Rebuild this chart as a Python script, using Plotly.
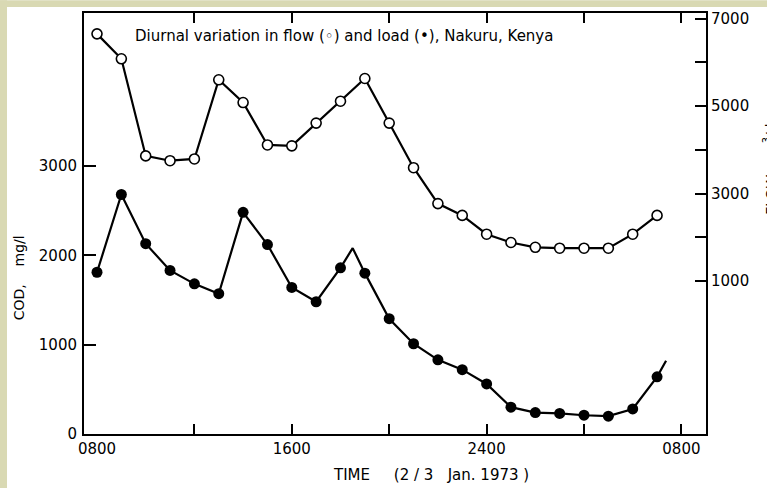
import plotly.graph_objects as go

# ---------------- data ----------------
hours = list(range(24))  # hours after 08:00
flow_values = [6650, 6080, 3860, 3750, 3790, 5600, 5080, 4110, 4090, 4610, 5110, 5630,
               4610, 3590, 2770, 2500, 2070, 1880, 1770, 1750, 1750, 1750, 2070, 2500]
cod_values = [1810, 2680, 2130, 1830, 1680, 1570, 2480, 2120, 1640, 1480, 1860, 1800,
              1290, 1010, 830, 720, 560, 300, 240, 230, 210, 200, 280, 640]
# vertices of the load line that carry no marker
cod_line_extra_hours = [10.5, 23.37]
cod_line_extra_values = [2080, 820]

x_label_hours = [0, 8, 16, 24]
x_label_text = ["0800", "1600", "2400", "0800"]
x_tick_hours = [4, 8, 12, 16, 20, 24]
cod_ticks = [0, 1000, 2000, 3000]
cod_tick_text = ["0", "1000", "2000", "3000"]
flow_major_ticks = [1000, 3000, 5000, 7000]
flow_tick_text = ["1000", "3000", "5000", "7000"]
flow_minor_ticks = [2000, 4000, 6000]

NB = "\u00a0"
title_text = "Diurnal variation in flow (\u25e6) and load (\u2022), Nakuru, Kenya"
x_title = "TIME" + NB * 5 + "(2" + NB + "/" + NB + "3" + NB * 3 + "Jan." + NB + "1973" + NB + ")"
y_title = "COD," + NB * 4 + "mg/l"
y2_title = "FLOW," + NB * 3 + "m<sup>3</sup>/d"

# build the load line with its unmarked vertices
line_pts = sorted(list(zip(hours, cod_values)) + list(zip(cod_line_extra_hours, cod_line_extra_values)))
cod_line_x = [p[0] for p in line_pts]
cod_line_y = [p[1] for p in line_pts]

FONT = "DejaVu Sans"
X_RANGE = [-0.534, 25.01]

fig = go.Figure()

# load (COD) line + filled markers
fig.add_trace(go.Scatter(x=cod_line_x, y=cod_line_y, mode="lines",
                         line=dict(color="black", width=2.2), xaxis="x", yaxis="y",
                         hoverinfo="skip", showlegend=False))
fig.add_trace(go.Scatter(x=hours, y=cod_values, mode="markers",
                         marker=dict(symbol="circle", size=11, color="black",
                                     line=dict(color="black", width=0)),
                         xaxis="x", yaxis="y", showlegend=False))

# flow line with open markers (right axis, top x axis)
fig.add_trace(go.Scatter(x=hours, y=flow_values, mode="lines+markers",
                         line=dict(color="black", width=2.2),
                         marker=dict(symbol="circle", size=10, color="white",
                                     line=dict(color="black", width=1.6)),
                         xaxis="x2", yaxis="y2", showlegend=False))

fig.update_layout(
    width=767, height=488,
    margin=dict(l=84, r=61, t=10, b=54),
    paper_bgcolor="white", plot_bgcolor="white",
    font=dict(family=FONT, color="black", size=15),
    showlegend=False,
    xaxis=dict(
        range=X_RANGE, tickmode="array", tickvals=x_label_hours, ticktext=x_label_text,
        ticks="", ticklen=0, showline=True, linecolor="black", linewidth=2,
        showgrid=False, zeroline=False, tickfont=dict(size=15, family=FONT),
        minor=dict(tickmode="array", tickvals=x_tick_hours, ticks="inside",
                   ticklen=10, tickwidth=1.5, tickcolor="black", showgrid=False),
    ),
    xaxis2=dict(
        range=X_RANGE, overlaying="x", side="top", anchor="y2",
        tickmode="array", tickvals=x_tick_hours, ticks="inside", ticklen=10,
        tickwidth=1.5, tickcolor="black", showticklabels=False,
        showline=True, linecolor="black", linewidth=2, showgrid=False, zeroline=False,
    ),
    yaxis=dict(
        range=[0, 4711], tickmode="array", tickvals=cod_ticks, ticktext=cod_tick_text,
        ticks="inside", ticklen=12, tickwidth=1.5, tickcolor="black",
        showline=True, linecolor="black", linewidth=2, showgrid=False, zeroline=False,
        tickfont=dict(size=15, family=FONT), ticklabelstandoff=2,
    ),
    yaxis2=dict(
        range=[-2498, 7127], overlaying="y", side="right", anchor="x",
        tickmode="array", tickvals=flow_major_ticks, ticktext=flow_tick_text,
        ticks="inside", ticklen=11, tickwidth=1.5, tickcolor="black",
        showline=True, linecolor="black", linewidth=2, showgrid=False, zeroline=False,
        tickfont=dict(size=15, family=FONT), ticklabelstandoff=0,
        minor=dict(tickmode="array", tickvals=flow_minor_ticks, ticks="inside",
                   ticklen=11, tickwidth=1.5, tickcolor="black", showgrid=False),
    ),
    annotations=[
        dict(text=title_text, xref="paper", yref="paper", x=0.0788, y=0.9458,
             xanchor="left", yanchor="middle", showarrow=False,
             font=dict(size=15, family=FONT)),
        dict(text=x_title, xref="paper", yref="paper", x=0.558, y=-0.0967,
             xanchor="center", yanchor="middle", showarrow=False,
             font=dict(size=15, family=FONT)),
        dict(text=y_title, xref="paper", yref="paper", x=-0.1045, y=0.370,
             xanchor="center", yanchor="middle", textangle=-90, showarrow=False,
             font=dict(size=14, family=FONT)),
        dict(text=y2_title, xref="paper", yref="paper", x=1.103, y=0.63,
             xanchor="center", yanchor="middle", textangle=-90, showarrow=False,
             font=dict(size=14, family=FONT)),
    ],
    shapes=[
        dict(type="rect", xref="paper", yref="paper", x0=-0.136, x1=-0.1238,
             y0=-0.13, y1=1.03, fillcolor="#d9d9b3", line=dict(width=0), layer="below"),
        dict(type="rect", xref="paper", yref="paper", x0=-0.136, x1=1.1,
             y0=1.0142, y1=1.03, fillcolor="#d9d9b3", line=dict(width=0), layer="below"),
    ],
)

fig.write_html("out.html",
               config={"displayModeBar": False},
               post_script="document.body.style.margin='0px';document.body.style.padding='0px';")
